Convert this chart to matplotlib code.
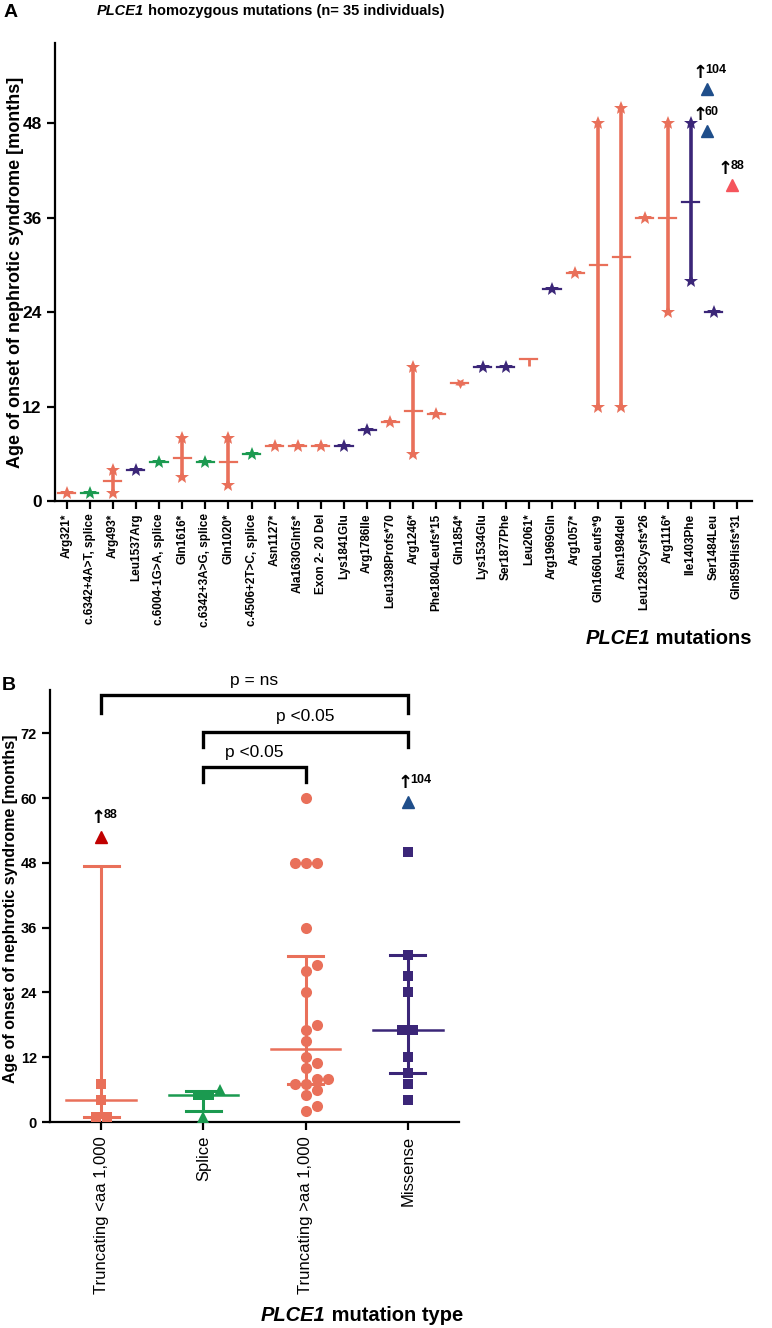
import numpy as np
import matplotlib
matplotlib.use('Agg')
import matplotlib.pyplot as plt

plt.rcParams['font.family'] = ['Liberation Sans Narrow', 'Liberation Sans', 'DejaVu Sans']
plt.rcParams['axes.linewidth'] = 1.6

# ---- panel A data: age of onset (months) per homozygous mutation ----
mutations_a = ['Arg321*', 'c.6342+4A>T, splice', 'Arg493*', 'Leu1537Arg',
               'c.6004-1G>A, splice', 'Gln1616*', 'c.6342+3A>G, splice', 'Gln1020*',
               'c.4506+2T>C, splice', 'Asn1127*', 'Ala1630Glnfs*', 'Exon 2- 20 Del',
               'Lys1841Glu', 'Arg1786Ile', 'Leu1398Profs*70', 'Arg1246*',
               'Phe1804Leufs*15', 'Gln1854*', 'Lys1534Glu', 'Ser1877Phe', 'Leu2061*',
               'Arg1969Gln', 'Arg1057*', 'Gln1660Leufs*9', 'Asn1984del',
               'Leu1283Cysfs*26', 'Arg1116*', 'Ile1403Phe', 'Ser1484Leu', 'Gln859Hisfs*31']
onset_a = [[1], [1], [1, 4], [4], [5], [3, 8], [5], [2, 8], [6], [7], [7], [7], [7], [9],
           [10], [6, 17], [11], [15], [17], [17], [18], [27], [29], [12, 48], [12, 50],
           [36], [24, 48], [28, 48], [24], []]
type_a = ['trunc', 'splice', 'trunc', 'missense', 'splice', 'trunc', 'splice', 'trunc',
          'splice', 'trunc', 'trunc', 'trunc', 'missense', 'missense', 'trunc', 'trunc',
          'trunc', 'trunc', 'missense', 'missense', 'trunc', 'missense', 'trunc', 'trunc',
          'trunc', 'trunc', 'trunc', 'missense', 'missense', 'trunc']
# off-scale individuals (true value in label, drawn value in y)
offscale_a_x = [27.7, 27.7, 28.8]
offscale_a_y = [52.3, 47.0, 40.1]
offscale_a_lab = ['104', '60', '88']
offscale_a_col = ['#1f4e8a', '#1f4e8a', '#f5555c']

# ---- panel B data ----
types_b = ['Truncating <aa 1,000', 'Splice', 'Truncating >aa 1,000', 'Missense']
onset_b = [[1, 1, 4, 7, 88],
           [1, 5, 5, 6],
           [2, 3, 5, 6, 7, 7, 8, 8, 10, 11, 12, 15, 17, 18, 24, 28, 29, 36, 48, 48, 48, 60],
           [4, 7, 9, 12, 17, 17, 24, 27, 31, 50, 104]]
markers_b = [['s', 's', 's', 's', '^'],
             ['^', 's', 's', '^'],
             ['o'] * 22,
             ['s'] * 10 + ['^']]
ymax_b = 72  # values above are drawn off-scale
offscale_b_y = {88: 52.8, 104: 59.3}
offscale_b_col = {88: '#c00000', 104: '#1f4e8a'}
brackets_b = [(0, 3, 79.0, 75.7, 'p = ns'), (1, 3, 72.3, 69.4, 'p <0.05'),
              (1, 2, 65.7, 63.0, 'p <0.05')]

colors = {'trunc': '#e9705a', 'splice': '#1b9a50', 'missense': '#3b2678'}
colors_b = [colors['trunc'], colors['splice'], colors['trunc'], colors['missense']]

fig = plt.figure(figsize=(7.72, 13.28), dpi=100)
W, H = 772, 1328


def box(l, t, r, b):
    return [l / W, 1 - b / H, (r - l) / W, (b - t) / H]


def offscale_label(ax, x, y, lab, dx=-7, dy=7):
    ax.annotate('\u2191', (x, y), xytext=(dx, dy), textcoords='offset pixels',
                ha='center', va='bottom', fontsize=13, fontweight='bold',
                family=['DejaVu Sans'], clip_on=False)
    ax.annotate(lab, (x, y), xytext=(dx + 5, dy + 6), textcoords='offset pixels',
                ha='left', va='bottom', fontsize=9, fontweight='bold', clip_on=False)


# ================= Panel A =================
ax = fig.add_axes(box(55, 43, 752, 501))
for i, vals in enumerate(onset_a):
    if not vals:
        continue
    c = colors[type_a[i]]
    med = np.median(vals)
    if len(vals) > 1:
        ax.plot([i, i], [min(vals), max(vals)], color=c, lw=2.6, solid_capstyle='butt')
    ax.plot([i - 0.37, i + 0.37], [med, med], color=c, lw=1.6)
    mk, ms = '*', 10
    if mutations_a[i] == 'Gln1854*':
        mk = (5, 1, 180)
        ms = 8
    if mutations_a[i] == 'Leu2061*':
        mk, ms = 3, 5
    ax.plot([i] * len(vals), vals, ls='none', marker=mk, ms=ms, color=c, mew=2 if mk == 3 else 0)

for x, y, lab, c in zip(offscale_a_x, offscale_a_y, offscale_a_lab, offscale_a_col):
    ax.plot(x, y, marker='^', ms=9, color=c, ls='none')
    offscale_label(ax, x, y, lab)

ax.set_xlim(-0.5, 29.65)
ax.set_ylim(0, 58.2)
ax.set_yticks([0, 12, 24, 36, 48])
ax.set_xticks(range(len(mutations_a)))
ax.set_xticklabels(mutations_a, rotation=90, fontsize=8.5, fontweight='bold')
ax.tick_params(axis='y', labelsize=12.5, width=1.6, length=6)
ax.tick_params(axis='x', width=1.6, length=6, pad=3)
for lbl in ax.get_yticklabels():
    lbl.set_fontweight('bold')
for s in ['top', 'right']:
    ax.spines[s].set_visible(False)

fig.text(16 / W, 1 - 272 / H, 'Age of onset of nephrotic syndrome [months]', rotation=90,
         ha='center', va='center', fontsize=13, fontweight='bold')
t1 = fig.text(97 / W, 1 - 15 / H, 'PLCE1', ha='left', va='baseline', fontsize=10.5,
              fontweight='bold', style='italic')
ax.annotate(' homozygous mutations (n= 35 individuals)', xy=(1, 0), xycoords=t1,
            ha='left', va='bottom', fontsize=10.5, fontweight='bold')
fig.text(4 / W, 1 - 17 / H, 'A', fontsize=14, fontweight='bold', ha='left', va='baseline')
t2 = fig.text(752 / W, 1 - 644 / H, ' mutations', ha='right', va='baseline', fontsize=14.5,
              fontweight='bold')
ax.annotate('PLCE1', xy=(0, 0), xycoords=t2, ha='right', va='bottom', fontsize=14.5,
            fontweight='bold', style='italic')

# ================= Panel B =================
bx = fig.add_axes(box(50, 690, 459, 1122))
bx.set_xlim(-0.5, 3.5)
bx.set_ylim(0, 80)


def swarm(ax, xc, vals, d):
    # beeswarm: equal values centred side by side, shifted by half steps if they collide
    px_x = ax.transData.transform((1, 0))[0] - ax.transData.transform((0, 0))[0]
    placed = []
    offs = [0.0] * len(vals)
    for v in sorted(set(vals)):
        idx = [j for j, w in enumerate(vals) if w == v]
        yp = ax.transData.transform((xc, v))[1]
        base = [(k - (len(idx) - 1) / 2) * d for k in range(len(idx))]
        k = 0
        while True:
            step = (k + 1) // 2 * (1 if k % 2 else -1)
            cand = [b + step * d / 2 for b in base]
            if all(np.hypot(ox - px, yp - py) >= d * 0.95
                   for ox in cand for px, py in placed):
                break
            k += 1
        for j, ox in zip(idx, cand):
            placed.append((ox, yp))
            offs[j] = ox / px_x
    return offs


for g, vals in enumerate(onset_b):
    c = colors_b[g]
    q1, med, q3 = np.percentile(vals, [25, 50, 75], method='weibull')
    bx.plot([g, g], [q1, q3], color=c, lw=2.2, solid_capstyle='butt', zorder=2)
    bx.plot([g - 0.34, g + 0.34], [med, med], color=c, lw=1.8, zorder=2)
    bx.plot([g - 0.17, g + 0.17], [q1, q1], color=c, lw=2.2, zorder=2)
    bx.plot([g - 0.17, g + 0.17], [q3, q3], color=c, lw=2.2, zorder=2)
    shown = [offscale_b_y.get(v, v) if v > ymax_b else v for v in vals]
    offs = swarm(bx, g, shown, 11)
    for v, y, o, mk in zip(vals, shown, offs, markers_b[g]):
        if v > ymax_b:
            bx.plot(g, y, marker='^', ms=9, color=offscale_b_col[v], ls='none', zorder=3)
            offscale_label(bx, g, y, str(v), dx=-3, dy=10)
        else:
            ms = 8 if mk == 'o' else 7.5
            if mk == '^':
                ms = 8.5
            bx.plot(g + o, y, marker=mk, ms=ms, color=c, ls='none', zorder=3, mew=0)

for a, b, ytop, yleg, lab in brackets_b:
    bx.plot([a, a, b, b], [yleg, ytop, ytop, yleg], color='black', lw=2.4, clip_on=False,
            solid_joinstyle='miter')
    bx.text((a + b) / 2, ytop + 1.4, lab, ha='center', va='bottom', fontsize=12.5,
            clip_on=False)

bx.set_yticks([0, 12, 24, 36, 48, 60, 72])
bx.set_xticks(range(4))
bx.set_xticklabels(types_b, rotation=90, fontsize=12)
bx.tick_params(axis='y', labelsize=10.5, width=1.6, length=6)
bx.tick_params(axis='x', width=1.6, length=6, pad=4)
for lbl in bx.get_yticklabels():
    lbl.set_fontweight('bold')
for s in ['top', 'right']:
    bx.spines[s].set_visible(False)

fig.text(11 / W, 1 - 909 / H, 'Age of onset of nephrotic syndrome [months]', rotation=90,
         ha='center', va='center', fontsize=11.5, fontweight='bold')
fig.text(2 / W, 1 - 690 / H, 'B', fontsize=14, fontweight='bold', ha='left', va='baseline')
t3 = fig.text(463 / W, 1 - 1321 / H, ' mutation type', ha='right', va='baseline',
              fontsize=14.5, fontweight='bold')
bx.annotate('PLCE1', xy=(0, 0), xycoords=t3, ha='right', va='bottom', fontsize=14.5,
            fontweight='bold', style='italic')

fig.savefig('out.png', dpi=100)
